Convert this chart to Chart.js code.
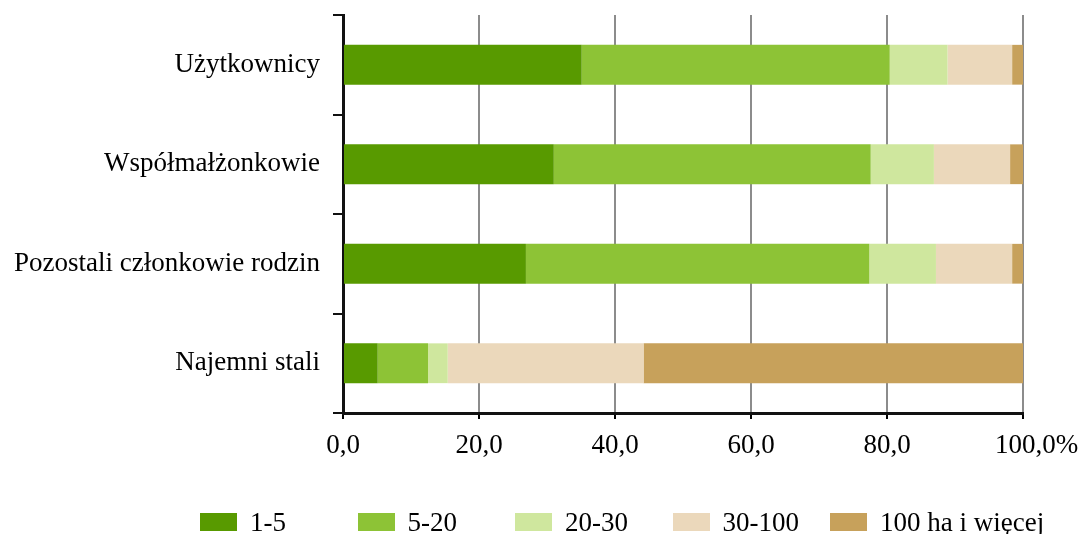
<!DOCTYPE html>
<html>
<head>
<meta charset="utf-8">
<script src="https://cdn.jsdelivr.net/npm/chart.js@4/dist/chart.umd.min.js"></script>
<style>
  html, body { margin: 0; padding: 0; background: #fff; }
  #wrap { position: relative; width: 1078px; height: 534px; }
  #legend { position: absolute; left: 0; top: 0; width: 1078px; height: 534px; pointer-events: none;
    font-family: "Liberation Serif", "Times New Roman", serif; font-size: 27px; color: #000; }
  .item { position: absolute; top: 505px; height: 34px; display: flex; align-items: center; white-space: nowrap; }
  .box { width: 37px; height: 18px; margin-right: 13px; }
</style>
</head>
<body>
<div id="wrap">
  <canvas id="myChart" width="1078" height="534"></canvas>
  <div id="legend"></div>
</div>
<script>
const categories = ["Użytkownicy", "Współmałżonkowie", "Pozostali członkowie rodzin", "Najemni stali"];
const seriesNames = ["1-5", "5-20", "20-30", "30-100", "100 ha i więcej"];
const s1to5 = [35.1, 31.0, 26.9, 5.1];
const s5to20 = [45.3, 46.6, 50.5, 7.4];
const s20to30 = [8.5, 9.3, 9.8, 2.9];
const s30to100 = [9.5, 11.2, 11.2, 28.8];
const s100plus = [1.6, 1.9, 1.6, 55.8];
const xTickLabels = ["0,0", "20,0", "40,0", "60,0", "80,0", "100,0%"];

const colors = ["#589a00", "#8dc336", "#cfe79e", "#ebd8bb", "#c7a15b"];
const seriesValues = [s1to5, s5to20, s20to30, s30to100, s100plus];
const font = { family: "'Liberation Serif', 'Times New Roman', serif", size: 27 };

const myChartUi = document.querySelector("#myChart");

const chart = new Chart(myChartUi, {
  type: "bar",
  data: {
    labels: categories,
    datasets: seriesNames.map((name, i) => ({
      label: name,
      data: seriesValues[i],
      backgroundColor: colors[i],
      borderWidth: 0,
      barPercentage: 0.4,
      categoryPercentage: 1
    }))
  },
  options: {
    indexAxis: "y",
    responsive: false,
    animation: false,
    layout: { padding: { top: 15, right: 55, bottom: 71, left: 0 } },
    plugins: { legend: { display: false }, tooltip: { enabled: false } },
    scales: {
      x: {
        stacked: true,
        min: 0,
        max: 100,
        ticks: {
          stepSize: 20,
          color: "#000",
          font: font,
          padding: 11,
          maxRotation: 0,
          // last label: the "%" hangs off to the right of the centred number
          callback: (value, index) => index === xTickLabels.length - 1
            ? "    " + xTickLabels[index]
            : xTickLabels[index]
        },
        grid: {
          color: (ctx) => ctx.index === 0 ? "rgba(0,0,0,0)" : "#8c8c8c",
          lineWidth: 2,
          tickColor: "#000",
          tickLength: 6
        },
        border: { color: "#111", width: 3 },
        afterFit(scale) {
          scale.height = 50;
          scale.paddingLeft = 0;
          scale.paddingRight = 0;
        }
      },
      y: {
        stacked: true,
        ticks: { color: "#000", font: font, padding: 13 },
        grid: { drawOnChartArea: false, tickColor: "#111", tickLength: 10, lineWidth: 2 },
        border: { color: "#111", width: 3 },
        afterFit(scale) {
          scale.width = 343;
          scale.paddingTop = 0;
          scale.paddingBottom = 0;
        }
      }
    }
  }
});

// legend below the plot
const legendUi = document.querySelector("#legend");
seriesNames.forEach((name, i) => {
  const item = document.createElement("div");
  item.className = "item";
  item.style.left = (200 + i * 157.5) + "px";
  item.innerHTML = `<span class="box" style="background:${colors[i]}"></span><span>${name}</span>`;
  legendUi.appendChild(item);
});
</script>
</body>
</html>
